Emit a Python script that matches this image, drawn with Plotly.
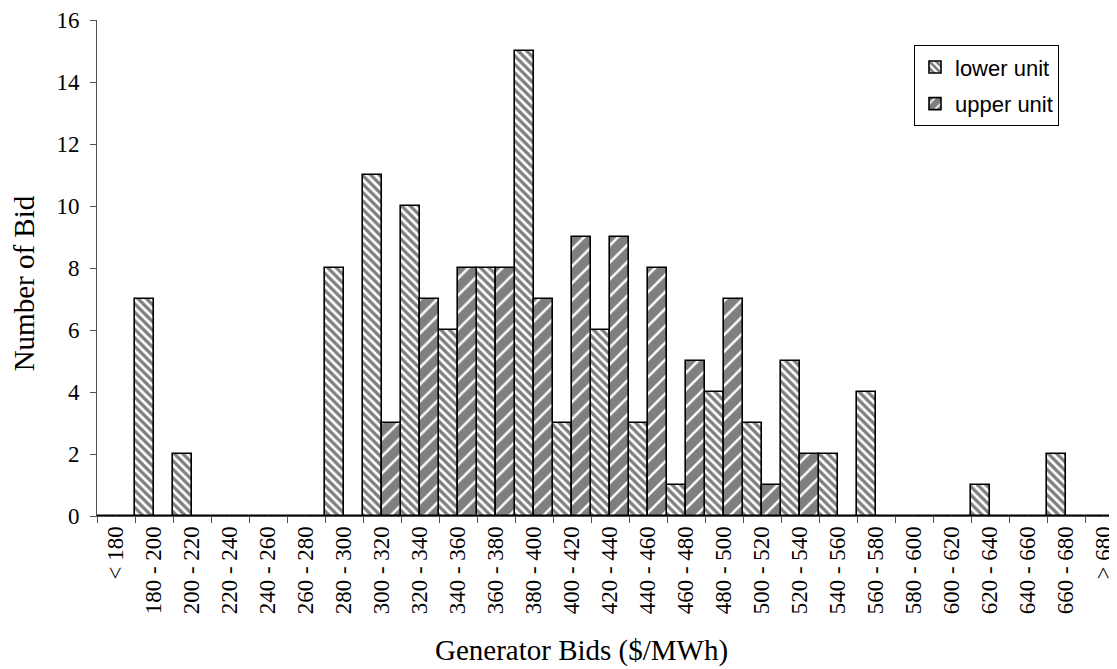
import plotly.graph_objects as go

categories = ["< 180"] + [f"{a} - {a+20}" for a in range(180, 680, 20)] + ["> 680"]
lower_unit = [0, 7, 2, 0, 0, 0, 8, 11, 10, 6, 8, 15, 3, 6, 3, 1, 4, 3, 5, 2, 4, 0, 0, 1, 0, 2, 0]
upper_unit = [0, 0, 0, 0, 0, 0, 0, 3, 7, 8, 8, 7, 9, 9, 8, 5, 7, 1, 2, 0, 0, 0, 0, 0, 0, 0, 0]
y_ticks = list(range(0, 17, 2))

# page has an 8px body margin: figure is shifted by 8px right/down
OFF = 8
W, H = 1117 - OFF, 669 - OFF
L, T = 97 - OFF, 15 - OFF
plot_h = 501
B = H - T - plot_h
plot_w = W - L
bottom_page = 15 + plot_h


def px(xp):
    return (xp - 97) / plot_w


def py(yp):
    return (bottom_page - yp) / plot_h


serif = "Liberation Serif, Times New Roman, serif"
sans = "Liberation Sans, Arial, sans-serif"

fig = go.Figure()
fig.add_trace(go.Bar(
    x=categories, y=lower_unit, name="lower unit", legendgroup="a",
    marker=dict(color="white", line=dict(color="black", width=1.6),
                pattern=dict(shape="\\", fgcolor="black", bgcolor="white", size=6, solidity=0.55)),
))
fig.add_trace(go.Bar(
    x=categories, y=upper_unit, name="upper unit", legendgroup="b",
    marker=dict(color="white", line=dict(color="black", width=1.6),
                pattern=dict(shape="/", fgcolor="black", bgcolor="white", size=12, solidity=0.8)),
))

x_end = -0.5 + plot_w / 38.0
axis_col = "#505050"

fig.update_layout(
    width=W, height=H,
    margin=dict(l=L, r=0, t=T, b=B),
    paper_bgcolor="white", plot_bgcolor="white",
    barmode="group", bargap=0, bargroupgap=0,
    showlegend=True,
    legend=dict(x=px(914), y=py(40.5), xanchor="left", yanchor="top",
                bordercolor="black", borderwidth=1, bgcolor="white",
                font=dict(family=sans, size=22, color="black"),
                tracegroupgap=5, itemwidth=30),
    xaxis=dict(type="category", range=[-0.5, x_end], tickson="boundaries",
               showline=True, linecolor=axis_col, linewidth=1,
               ticks="outside", ticklen=6, tickcolor=axis_col,
               tickangle=-90, tickfont=dict(family=serif, size=23, color="black"),
               showgrid=False, zeroline=False),
    yaxis=dict(range=[0, 16], tickvals=y_ticks, showline=True, linecolor=axis_col, linewidth=1,
               ticks="outside", ticklen=6, tickcolor=axis_col, ticklabelstandoff=6,
               ticklabeloverflow="allow",
               tickfont=dict(family=serif, size=23, color="black"),
               showgrid=False, zeroline=False),
    annotations=[
        dict(text="Generator Bids ($/MWh)", xref="paper", yref="paper",
             x=px(581.5), y=py(652), xanchor="center", yanchor="middle",
             showarrow=False, font=dict(family=serif, size=29, color="black")),
        dict(text="Number of Bid", xref="paper", yref="paper",
             x=px(24), y=py(281), xanchor="center", yanchor="middle", textangle=-90,
             showarrow=False, font=dict(family=serif, size=29, color="black")),
    ],
)

fig.write_html("out.html")
